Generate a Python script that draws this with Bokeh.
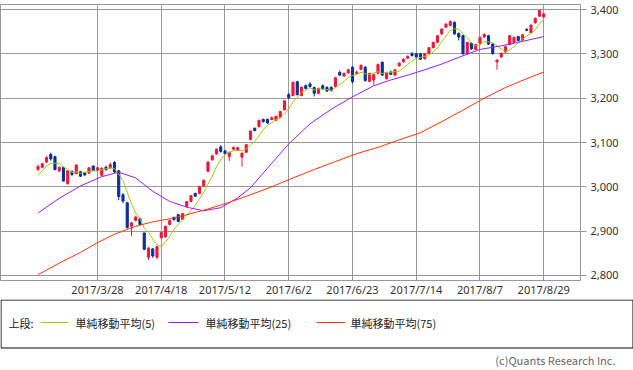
import numpy as np
import pandas as pd
from bokeh.plotting import figure
from bokeh.models import ColumnDataSource, Range1d, FixedTicker, NumeralTickFormatter
from bokeh.layouts import column
from bokeh.embed import file_html
from bokeh.resources import INLINE
from bokeh.core.properties import value

# ---------------- data ----------------
trade_days = {
    3: [7, 8, 9, 10, 13, 14, 15, 16, 17, 21, 22, 23, 24, 27, 28, 29, 30, 31],
    4: [3, 4, 5, 6, 7, 10, 11, 12, 13, 14, 17, 18, 19, 20, 21, 24, 25, 26, 27, 28],
    5: [1, 2, 8, 9, 10, 11, 12, 15, 16, 17, 18, 19, 22, 23, 24, 25, 26, 29, 30, 31],
    6: [1, 2, 5, 6, 7, 8, 9, 12, 13, 14, 15, 16, 19, 20, 21, 22, 23, 26, 27, 28, 29, 30],
    7: [3, 4, 5, 6, 7, 10, 11, 12, 13, 14, 18, 19, 20, 21, 24, 25, 26, 27, 28, 31],
    8: [1, 2, 3, 4, 7, 8, 9, 10, 14, 15, 16, 17, 18, 21, 22, 23, 24, 25, 28, 29],
}

opens = [3039, 3044, 3056, 3073, 3068, 3036, 3044, 3007, 3034, 3030,
         3034, 3031, 3031, 3047, 3038, 3026, 3044, 3043, 3055, 3036,
         2982, 2964, 2911, 2924, 2928, 2896, 2841, 2860, 2841, 2885,
         2887, 2915, 2931, 2937, 2927, 2956, 2967, 2985, 2985, 3002,
         3035, 3061, 3074, 3090, 3081, 3068, 3085, 3083, 3067, 3078,
         3107, 3132, 3136, 3152, 3152, 3152, 3150, 3157, 3174, 3208,
         3206, 3237, 3206, 3228, 3232, 3224, 3211, 3228, 3224, 3224,
         3226, 3258, 3250, 3257, 3270, 3256, 3265, 3270, 3238, 3241,
         3256, 3281, 3244, 3259, 3252, 3273, 3282, 3290, 3300, 3300,
         3300, 3289, 3301, 3314, 3326, 3345, 3360, 3364, 3371, 3346,
         3341, 3300, 3324, 3310, 3324, 3338, 3341, 3322, 3282, 3293,
         3304, 3321, 3326, 3339, 3331, 3355, 3348, 3370, 3385, 3383]
highs = [3050, 3054, 3069, 3077, 3070, 3046, 3045, 3038, 3037, 3051,
         3036, 3034, 3044, 3048, 3045, 3044, 3048, 3055, 3058, 3038,
         2986, 2966, 2921, 2934, 2930, 2897, 2864, 2862, 2867, 2899,
         2912, 2926, 2933, 2939, 2941, 2968, 2981, 2987, 3001, 3016,
         3057, 3071, 3086, 3094, 3083, 3079, 3091, 3091, 3077, 3096,
         3127, 3134, 3151, 3154, 3154, 3159, 3161, 3171, 3195, 3212,
         3237, 3239, 3226, 3231, 3236, 3226, 3224, 3231, 3227, 3227,
         3247, 3262, 3258, 3266, 3272, 3262, 3276, 3272, 3257, 3254,
         3278, 3283, 3258, 3262, 3266, 3281, 3290, 3297, 3304, 3302,
         3301, 3301, 3315, 3327, 3342, 3357, 3369, 3375, 3373, 3348,
         3343, 3327, 3326, 3323, 3339, 3346, 3343, 3324, 3287, 3303,
         3318, 3342, 3339, 3341, 3345, 3358, 3366, 3382, 3399, 3392]
lows = [3036, 3042, 3053, 3059, 3037, 3033, 3012, 3005, 3024, 3028,
        3022, 3024, 3030, 3036, 3035, 3025, 3036, 3041, 3031, 2970,
        2963, 2906, 2889, 2922, 2913, 2857, 2835, 2840, 2837, 2884,
        2885, 2913, 2924, 2920, 2925, 2954, 2965, 2977, 2983, 3000,
        3033, 3059, 3072, 3077, 3073, 3058, 3083, 3081, 3046, 3076,
        3105, 3125, 3134, 3145, 3142, 3150, 3148, 3155, 3172, 3198,
        3204, 3206, 3204, 3220, 3224, 3204, 3209, 3219, 3214, 3215,
        3224, 3250, 3248, 3255, 3233, 3254, 3263, 3237, 3236, 3230,
        3254, 3250, 3242, 3252, 3250, 3271, 3280, 3288, 3294, 3290,
        3286, 3287, 3299, 3312, 3324, 3343, 3358, 3362, 3343, 3330,
        3298, 3298, 3309, 3308, 3322, 3336, 3320, 3298, 3264, 3291,
        3302, 3319, 3324, 3328, 3329, 3351, 3346, 3368, 3383, 3381]
closes = [3046, 3052, 3066, 3063, 3039, 3044, 3013, 3036, 3028, 3049,
          3024, 3027, 3043, 3037, 3043, 3042, 3039, 3050, 3034, 2978,
          2968, 2908, 2919, 2932, 2915, 2859, 2862, 2844, 2865, 2897,
          2911, 2924, 2926, 2922, 2940, 2967, 2980, 2979, 3000, 3015,
          3056, 3070, 3085, 3080, 3075, 3078, 3089, 3088, 3076, 3095,
          3126, 3127, 3150, 3147, 3144, 3156, 3159, 3170, 3194, 3201,
          3236, 3208, 3225, 3222, 3226, 3211, 3222, 3221, 3216, 3217,
          3246, 3252, 3256, 3264, 3237, 3259, 3274, 3240, 3256, 3253,
          3276, 3252, 3256, 3254, 3264, 3279, 3288, 3294, 3296, 3293,
          3288, 3300, 3314, 3326, 3341, 3356, 3367, 3373, 3345, 3338,
          3300, 3326, 3311, 3321, 3337, 3344, 3322, 3301, 3286, 3301,
          3316, 3341, 3337, 3330, 3343, 3353, 3365, 3380, 3398, 3390]

# first 4 values of the 5-day average (need earlier days)
ma5_head = [3026, 3036, 3047, 3053]

ma25_idx = [0, 5, 10, 15, 19, 23, 27, 31, 35, 39, 43, 47, 50, 54, 59, 64, 69, 74,
            79, 83, 87, 91, 95, 99, 104, 109, 114, 119]
ma25_val = [2941, 2974, 3002, 3023, 3033, 3020, 2990, 2967, 2954, 2946, 2953, 2975,
            2998, 3042, 3097, 3142, 3175, 3203, 3228, 3241, 3252, 3264, 3277, 3292,
            3310, 3318, 3328, 3339]

ma75_idx = [0, 2, 6, 10, 14, 18, 23, 27, 31, 35, 40, 45, 50, 55, 60, 65, 70, 75,
            80, 85, 90, 95, 100, 105, 110, 115, 119]
ma75_val = [2802, 2812, 2833, 2852, 2874, 2893, 2911, 2921, 2928, 2937, 2950, 2965,
            2982, 3000, 3020, 3039, 3057, 3075, 3089, 3106, 3122, 3147, 3173, 3200,
            3224, 3244, 3259]

y_ticks = [2800, 2900, 3000, 3100, 3200, 3300, 3400]
legend_title = "上段:"
ma_labels = ["単純移動平均(5)", "単純移動平均(25)", "単純移動平均(75)"]
copyright_text = "(c)Quants Research Inc."

# ---------------- styling ----------------
UP = "#f0163c"
DOWN = "#0a2f9a"
MA_COLORS = ["#99cc00", "#9a1aff", "#ff3300"]
GRID = "#999999"
FONT = "Noto Sans CJK JP"
TICK_FONT = "Noto Sans"

dates = [f"2017/{m}/{d}" for m, ds in trade_days.items() for d in ds]
n = len(dates)
idx = np.arange(n)
o = np.array(opens, float)
c = np.array(closes, float)
top = np.maximum(o, c)
bot = np.minimum(o, c)
colors = [UP if cc >= oo else DOWN for oo, cc in zip(o, c)]

src = ColumnDataSource(dict(x=idx, high=highs, low=lows, top=top, bottom=bot, color=colors))

ma5 = pd.Series(closes, dtype=float).rolling(5).mean().to_numpy()
ma5[:4] = ma5_head

tick_idx = sorted(range(n - 1, -1, -15))

p = figure(frame_width=580, frame_height=276,
           x_range=Range1d(-8.82, 127.65), y_range=Range1d(2788.7, 3411.3),
           y_axis_location="right", toolbar_location=None, output_backend="svg",
           min_border_left=0, min_border_top=4, min_border_right=53, min_border_bottom=17)

p.segment(x0="x", y0="high", x1="x", y1="low", line_color="color", line_width=1, source=src)
p.vbar(x="x", width=0.5, top="top", bottom="bottom", fill_color="color",
       line_color="color", line_width=1, source=src)

p.line(idx, ma5, line_color=MA_COLORS[0], line_width=1)
p.line(ma25_idx, ma25_val, line_color=MA_COLORS[1], line_width=1)
p.line(ma75_idx, ma75_val, line_color=MA_COLORS[2], line_width=1)

xt = FixedTicker(ticks=tick_idx)
p.xaxis.ticker = xt
p.xgrid.ticker = xt
p.xaxis.major_label_overrides = {i: dates[i] for i in tick_idx}
yt = FixedTicker(ticks=y_ticks)
p.yaxis.ticker = yt
p.ygrid.ticker = yt
p.yaxis.formatter = NumeralTickFormatter(format="0,0")

p.grid.grid_line_color = GRID
p.grid.grid_line_width = 1
p.outline_line_color = GRID

p.xaxis.axis_line_color = None
p.xaxis.major_tick_line_color = None
p.xaxis.minor_tick_line_color = None
p.xaxis.major_tick_out = 0
p.xaxis.major_tick_in = 0
p.xaxis.minor_tick_out = 0
p.xaxis.minor_tick_in = 0
p.xaxis.major_label_standoff = 1
p.yaxis.axis_line_color = None
p.yaxis.minor_tick_line_color = None
p.yaxis.minor_tick_out = 0
p.yaxis.minor_tick_in = 0
p.yaxis.major_tick_line_color = GRID
p.yaxis.major_tick_out = 6
p.yaxis.major_tick_in = 0
p.yaxis.major_label_standoff = 4
for ax in (p.xaxis[0], p.yaxis[0]):
    ax.major_label_text_font = TICK_FONT
    ax.major_label_text_font_size = "11px"
    ax.major_label_text_color = "#333333"

# ---------------- legend box below ----------------
p2 = figure(frame_width=633, frame_height=73, x_range=Range1d(0, 633), y_range=Range1d(73, 0),
            toolbar_location=None, output_backend="svg",
            x_axis_location=None, y_axis_location=None,
            min_border_left=0, min_border_right=0, min_border_top=0, min_border_bottom=0)
p2.grid.visible = False
p2.outline_line_color = None

p2.quad(left=[0.5], right=[632.5], top=[0.5], bottom=[48.5],
        fill_color=None, line_color="black", line_width=1)
p2.text(x=[8], y=[23], text=[legend_title], text_font=value(FONT),
        text_font_size="11px", text_baseline="middle", text_color="#222222")
leg_src = ColumnDataSource(dict(x0=[40, 168, 316], x1=[68, 198, 345], y=[23, 23, 23],
                                color=MA_COLORS, tx=[75, 205, 350], label=ma_labels))
p2.segment(x0="x0", y0="y", x1="x1", y1="y", line_color="color", line_width=1, source=leg_src)
p2.text(x="tx", y="y", text="label", text_font=value(FONT),
        text_font_size="11px", text_baseline="middle", text_color="#222222", source=leg_src)
p2.text(x=[615], y=[60], text=[copyright_text], text_font=value(FONT),
        text_font_size="11px", text_baseline="middle", text_align="right",
        text_color="#666666")

layout = column(p, p2, spacing=0)
open("out.html", "w").write(file_html(layout, INLINE))
